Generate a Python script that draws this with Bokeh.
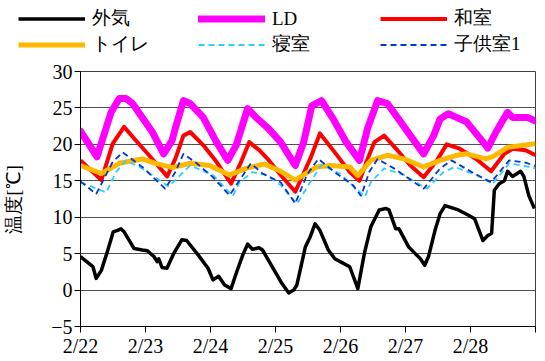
from bokeh.plotting import figure
from bokeh.models import Legend, LegendItem, FixedTicker, Range1d
from bokeh.layouts import column
from bokeh.embed import file_html
from bokeh.resources import INLINE

# hours since 2/22 00:00
out_h = [0,4.0,4.6,5.8,7.7,10.1,12.1,13.7,14.9,16.1,19.8,22.8,24.7,27.1,28.3,28.9,30.1,31.9,34.4,37.4,39.2,43.5,47.1,48.9,51.0,53.2,55.6,57.5,59.9,61.7,63.5,65.9,67.2,70.8,74.4,76.9,78.7,79.9,83.0,84.8,86.6,88.4,91.5,93.9,96.9,99.4,102.4,104.8,107.2,110.3,112.7,113.9,116.4,117.6,121.2,123.6,125.5,127.1,128.5,130.9,132.8,134.6,139.5,143.1,145.5,148.6,150.4,151.8,152.8,154.6,156.5,157.7,159.5,162.5,163.7,165.5,167.6]
out_t = [4.6,3.4,3.2,1.6,2.7,5.5,8.0,8.2,8.4,8.0,5.7,5.5,5.4,4.6,3.9,4.3,3.1,3.0,5.0,6.9,6.8,4.8,3.0,1.4,1.9,0.7,0.2,2.3,4.8,6.3,5.6,5.8,5.5,3.2,0.9,-0.4,0.0,0.7,5.9,7.3,9.1,8.2,5.5,4.3,3.7,3.2,0.2,5.0,8.7,11.0,11.2,11.0,8.4,8.4,5.9,5.0,4.3,3.4,4.6,8.2,10.5,11.6,11.0,10.3,9.8,6.8,7.5,7.8,13.7,14.6,15.0,16.3,15.6,16.3,15.6,13.0,11.2]

ld_h = [0,6.1,11.3,14.3,16.8,19.2,22.8,26.5,30.7,33.8,35.0,38.0,40.5,45.3,50.2,54.4,57.5,61.7,64.8,69.6,73.9,79.3,82.4,85.4,89.0,93.3,98.1,103.0,106.0,109.7,113.3,117.0,121.8,126.7,130.4,132.8,135.8,138.8,142.5,146.7,150.4,153.4,157.7,159.5,165.0,168.0]
ld_t = [21.8,18.3,24.4,26.3,26.3,25.6,23.7,21.7,18.7,20.5,22.2,26.0,25.6,23.7,20.3,17.8,19.9,24.9,23.7,22.1,20.3,17.1,20.3,25.3,26.0,23.5,20.3,17.8,22.2,26.0,25.6,23.7,21.2,18.7,21.2,23.5,24.2,23.7,23.1,21.2,19.5,21.7,24.4,23.7,23.7,23.2]

ws_h = [0,7.7,11.9,16.1,19.8,25.3,32.0,35.0,38.0,40.5,45.3,50.2,55.6,59.3,62.3,66.0,69.6,73.9,79.3,84.8,88.4,93.9,99.4,103.0,106.0,108.5,112.1,117.0,121.8,126.7,131.6,135.2,140.0,146.1,151.6,156.5,159.5,164.4,168.0]
ws_t = [17.8,15.1,20.1,22.4,20.8,18.5,15.6,18.0,21.2,21.7,19.9,17.6,14.6,17.6,20.3,19.2,17.8,15.8,13.5,18.0,21.5,18.9,16.2,15.0,18.0,20.3,21.2,19.2,17.1,15.5,17.8,20.0,19.4,18.0,16.3,18.7,19.4,19.2,18.5]

to_h = [0,7.7,14.3,22.8,27.7,33.8,40.5,47.7,55.0,61.1,67.8,73.9,79.3,87.2,92.1,99.4,102.4,107.2,113.3,119.4,126.7,132.8,138.8,142.5,149.7,152.2,157.7,164.4,168.0]
to_t = [17.1,16.0,17.4,18.0,17.4,16.8,17.4,17.1,15.8,16.7,17.3,16.3,15.1,16.9,17.1,16.9,15.7,17.8,18.5,18.0,16.9,17.8,18.5,18.7,18.0,18.3,19.6,19.9,20.1]

bd_h = [0,9.5,13.1,16.8,22.8,32.5,35.0,40.5,48.9,56.2,58.7,63.5,68.4,73.9,79.9,84.8,89.0,95.7,105.0,107.2,112.1,119.4,127.9,134.0,138.2,146.1,152.2,158.3,164.4,168.0]
bd_t = [14.8,13.4,16.2,17.8,16.7,14.2,15.1,17.1,15.8,12.9,14.8,16.2,15.8,14.4,11.8,14.8,17.2,16.0,12.8,14.8,16.7,15.8,13.9,16.2,16.9,15.8,14.6,17.4,17.0,16.7]

ch_h = [0,5.8,11.9,15.6,22.8,31.3,35.0,38.0,42.9,48.9,55.0,62.9,67.2,73.9,79.3,83.6,87.8,94.5,100.6,103.6,106.6,109.7,115.8,126.7,132.8,137.0,144.9,151.6,158.3,164.4,168.0]
ch_t = [14.9,13.2,17.6,18.9,16.9,13.9,16.2,18.7,17.4,15.5,13.0,17.4,16.0,14.8,11.9,15.8,18.0,16.0,14.4,12.9,16.2,18.0,16.7,13.9,16.7,17.8,16.1,14.8,17.8,17.5,17.0]

tick_hours = [0, 24, 48, 72, 96, 120, 144, 168]
tick_labels = ["2/22", "2/23", "2/24", "2/25", "2/26", "2/27", "2/28", ""]
y_ticks = [-5, 0, 5, 10, 15, 20, 25, 30]

series_names = ["外気", "LD", "和室", "トイレ", "寝室", "子供室1"]
styles = [
    dict(line_color="black", line_width=3.5, line_join="round"),
    dict(line_color="#FF00FF", line_width=7, line_join="round", line_cap="round"),
    dict(line_color="#FF0000", line_width=4, line_join="round"),
    dict(line_color="#FFB800", line_width=5, line_join="round"),
    dict(line_color="#33CCFF", line_width=1.8, line_dash="6 4"),
    dict(line_color="#0038D0", line_width=1.8, line_dash="6 4"),
]

SERIF = "Liberation Serif"
data = [(out_h, out_t), (ld_h, ld_t), (ws_h, ws_t), (to_h, to_t), (bd_h, bd_t), (ch_h, ch_t)]

# ---- main plot ----
p = figure(width=545, height=301, output_backend="svg", toolbar_location=None,
           x_range=Range1d(0, 168), y_range=Range1d(-5, 30),
           min_border_left=74, min_border_right=10, min_border_top=11,
           min_border_bottom=35)
p.frame_align = False
p.background_fill_color = "white"
p.border_fill_color = "white"
p.outline_line_color = "#404040"
p.outline_line_width = 1

p.xgrid.visible = False
p.ygrid.grid_line_color = "#505050"
p.ygrid.grid_line_width = 1
p.ygrid.ticker = FixedTicker(ticks=y_ticks)

p.xaxis.ticker = FixedTicker(ticks=tick_hours)
p.xaxis.major_label_overrides = {h: l for h, l in zip(tick_hours, tick_labels)}
p.yaxis.ticker = FixedTicker(ticks=y_ticks)

for ax in (p.xaxis, p.yaxis):
    ax.axis_line_color = "black"
    ax.major_tick_line_color = "black"
    ax.major_tick_in = 0
    ax.major_tick_out = 6
    ax.minor_tick_line_color = None
    ax.major_label_text_font = SERIF
    ax.major_label_text_font_size = "20px"
    ax.major_label_text_color = "black"
    ax.major_label_standoff = 2

p.yaxis.axis_label = "温度[℃]"
p.yaxis.axis_label_text_font = SERIF
p.yaxis.axis_label_text_font_size = "19px"
p.yaxis.axis_label_text_font_style = "normal"
p.yaxis.axis_label_text_color = "black"
p.yaxis.axis_label_standoff = 24

for i in [1, 2, 3, 4, 5, 0]:
    p.line(data[i][0], data[i][1], **styles[i])

# ---- legend strip (same series, view range kept off the data) ----
lg = figure(width=545, height=60, output_backend="svg", toolbar_location=None,
            x_range=Range1d(0, 168), y_range=Range1d(100, 101),
            x_axis_type=None, y_axis_type=None,
            min_border=0, min_border_left=0, min_border_right=0,
            min_border_top=0, min_border_bottom=0)
lg.frame_align = False
lg.outline_line_color = None
lg.xgrid.visible = False
lg.ygrid.visible = False
lg_r = [lg.line(data[i][0], data[i][1], **styles[i]) for i in range(6)]

cols = [[0, 3], [1, 4], [2, 5]]
xoffs = [18, 198, 380]
for idx, xo in zip(cols, xoffs):
    leg = Legend(items=[LegendItem(label=series_names[i], renderers=[lg_r[i]]) for i in idx],
                 location=(xo, 3), orientation="vertical",
                 border_line_color=None, background_fill_alpha=0,
                 padding=0, margin=0, spacing=0,
                 label_height=25, glyph_height=25, glyph_width=67,
                 label_standoff=7,
                 label_text_font=SERIF, label_text_font_size="19px",
                 label_text_color="black")
    lg.add_layout(leg, "center")

layout = column(lg, p, spacing=0)
open("out.html", "w").write(file_html(layout, INLINE))
